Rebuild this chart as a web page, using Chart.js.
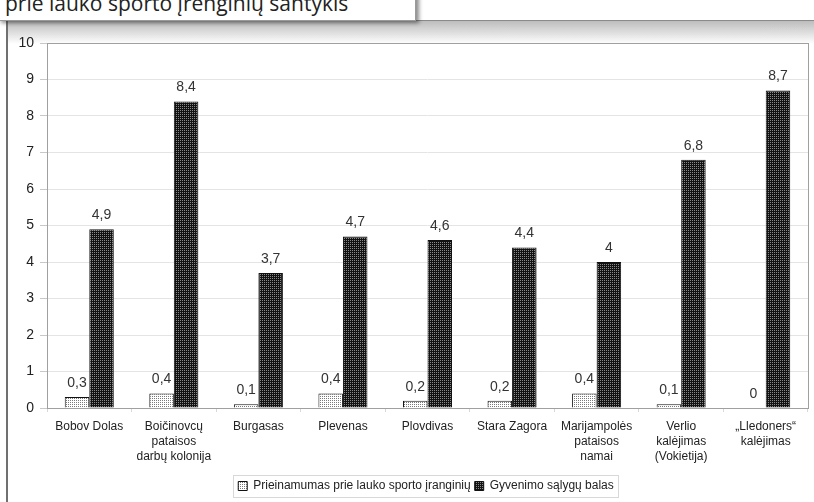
<!DOCTYPE html>
<html>
<head>
<meta charset="utf-8">
<script src="https://cdn.jsdelivr.net/npm/chart.js@4/dist/chart.umd.min.js"></script>
<style>
  html, body { margin:0; padding:0; background:#fff; }
  #wrap { position:relative; width:814px; height:502px; overflow:hidden; background:#fff; }
  #band { position:absolute; left:8px; top:20px; width:806px; height:23px;
          border-top:1px solid #8a8a8a;
          background:linear-gradient(#bdbdbd, #ffffff); }
  #leftline { position:absolute; left:6px; top:20px; width:2px; height:482px; background:#707070; }
  #titlebox { position:absolute; left:-2px; top:-12px; width:416px; height:31px; background:#fff;
              border:1px solid #9a9a9a; box-shadow:3px 2px 4px rgba(0,0,0,0.45); }
  #title { position:absolute; left:5px; top:-11px; font-family:"Open Sans", sans-serif; font-size:21px;
           color:#222; white-space:nowrap; }
  canvas { position:absolute; left:0; top:0; }
</style>
</head>
<body>
<div id="wrap">
  <div id="band"></div>
  <div id="leftline"></div>
  <div id="titlebox"></div>
  <div id="title">prie lauko sporto įrenginių santykis</div>
  <canvas id="c" width="814" height="502"></canvas>
</div>
<script>
const categories = [
  ['Bobov Dolas'],
  ['Boičinovcų', 'pataisos', 'darbų kolonija'],
  ['Burgasas'],
  ['Plevenas'],
  ['Plovdivas'],
  ['Stara Zagora'],
  ['Marijampolės', 'pataisos', 'namai'],
  ['Verlio', 'kalėjimas', '(Vokietija)'],
  ['„Lledoners“', 'kalėjimas']
];
const seriesNames = ['Prieinamumas prie lauko sporto įranginių', 'Gyvenimo sąlygų balas'];
const accessValues = [0.3, 0.4, 0.1, 0.4, 0.2, 0.2, 0.4, 0.1, 0];
const livingValues = [4.9, 8.4, 3.7, 4.7, 4.6, 4.4, 4, 6.8, 8.7];
const yTicks = [0, 1, 2, 3, 4, 5, 6, 7, 8, 9, 10];

function makePattern(bg, fg, cells, size) {
  const p = document.createElement('canvas');
  p.width = size; p.height = size;
  const g = p.getContext('2d');
  g.fillStyle = bg; g.fillRect(0, 0, size, size);
  g.fillStyle = fg;
  cells.forEach(([x, y]) => g.fillRect(x, y, 1, 1));
  return g.createPattern(p, 'repeat');
}
const lightPattern = makePattern('#ffffff', '#7a7a7a', [[0,0]], 2);
const darkPattern = makePattern('#121212', '#8a8a8a', [[0,0],[2,0],[0,2],[2,2]], 4);

const fmt = v => String(v).replace('.', ',');

const valueLabels = {
  id: 'valueLabels',
  afterDatasetsDraw(chart) {
    const c = chart.ctx;
    c.save();
    c.font = '14px "Liberation Sans", Arial, sans-serif';
    c.fillStyle = '#333';
    c.textAlign = 'center';
    c.textBaseline = 'alphabetic';
    chart.data.datasets.forEach((ds, di) => {
      const meta = chart.getDatasetMeta(di);
      meta.data.forEach((el, i) => {
        c.fillText(fmt(ds.data[i]), el.x, el.y - 10);
      });
    });
    c.restore();
  }
};

const legendShift = {
  id: 'legendShift',
  afterLayout(chart) {
    const lg = chart.legend;
    if (lg) { lg.left += 22; lg.right += 22; }
  }
};

const frame = {
  id: 'frame',
  afterDraw(chart) {
    const a = chart.chartArea, c = chart.ctx;
    c.save();
    c.strokeStyle = '#a0a0a0';
    c.lineWidth = 1;
    c.strokeRect(Math.round(a.left) + 0.5, Math.round(a.top) + 0.5, Math.round(a.right - a.left), Math.round(a.bottom - a.top));
    const lg = chart.legend;
    if (lg && lg.legendHitBoxes && lg.legendHitBoxes.length) {
      const hb = lg.legendHitBoxes;
      const x0 = Math.min(...hb.map(h => h.left)) - 5;
      const x1 = Math.max(...hb.map(h => h.left + h.width)) + 4;
      const y0 = Math.min(...hb.map(h => h.top)) - 5;
      const y1 = Math.max(...hb.map(h => h.top + h.height)) + 5;
      c.strokeStyle = '#d8d8d8';
      c.strokeRect(Math.round(x0) + 0.5, Math.round(y0) + 0.5, Math.round(x1 - x0), Math.round(y1 - y0));
    }
    c.restore();
  }
};

new Chart(document.getElementById('c'), {
  type: 'bar',
  data: {
    labels: categories,
    datasets: [
      { label: seriesNames[0], data: accessValues, backgroundColor: lightPattern, borderColor: '#111', borderWidth: 1,
        categoryPercentage: 0.58, barPercentage: 1.0 },
      { label: seriesNames[1], data: livingValues, backgroundColor: darkPattern, borderColor: '#111', borderWidth: 1,
        categoryPercentage: 0.58, barPercentage: 1.0 }
    ]
  },
  options: {
    responsive: false,
    animation: false,
    devicePixelRatio: 1,
    layout: { padding: { top: 43, right: 6, left: 0, bottom: 0 } },
    plugins: {
      tooltip: { enabled: false },
      legend: {
        position: 'bottom',
        labels: {
          boxWidth: 9, boxHeight: 9, padding: 4,
          color: '#222',
          font: { family: '"Liberation Sans", Arial, sans-serif', size: 12 }
        }
      }
    },
    scales: {
      x: {
        grid: { drawOnChartArea: false, drawTicks: true, tickLength: 4, color: '#d8d8d8' },
        border: { display: false },
        ticks: {
          color: '#222', padding: 7, maxRotation: 0, autoSkip: false,
          font: { family: '"Liberation Sans", Arial, sans-serif', size: 12, lineHeight: 1.25 }
        },
        afterFit(s) { s.height = 68; }
      },
      y: {
        min: 0, max: 10,
        afterBuildTicks(s) { s.ticks = yTicks.map(v => ({ value: v })); },
        grid: { color: '#e4e4e4', tickLength: 7, tickColor: '#c8c8c8' },
        border: { display: false },
        ticks: {
          color: '#222', padding: 6,
          font: { family: '"Liberation Sans", Arial, sans-serif', size: 14 }
        },
        afterFit(s) { s.width = 47; }
      }
    }
  },
  plugins: [legendShift, valueLabels, frame]
});
</script>
</body>
</html>
